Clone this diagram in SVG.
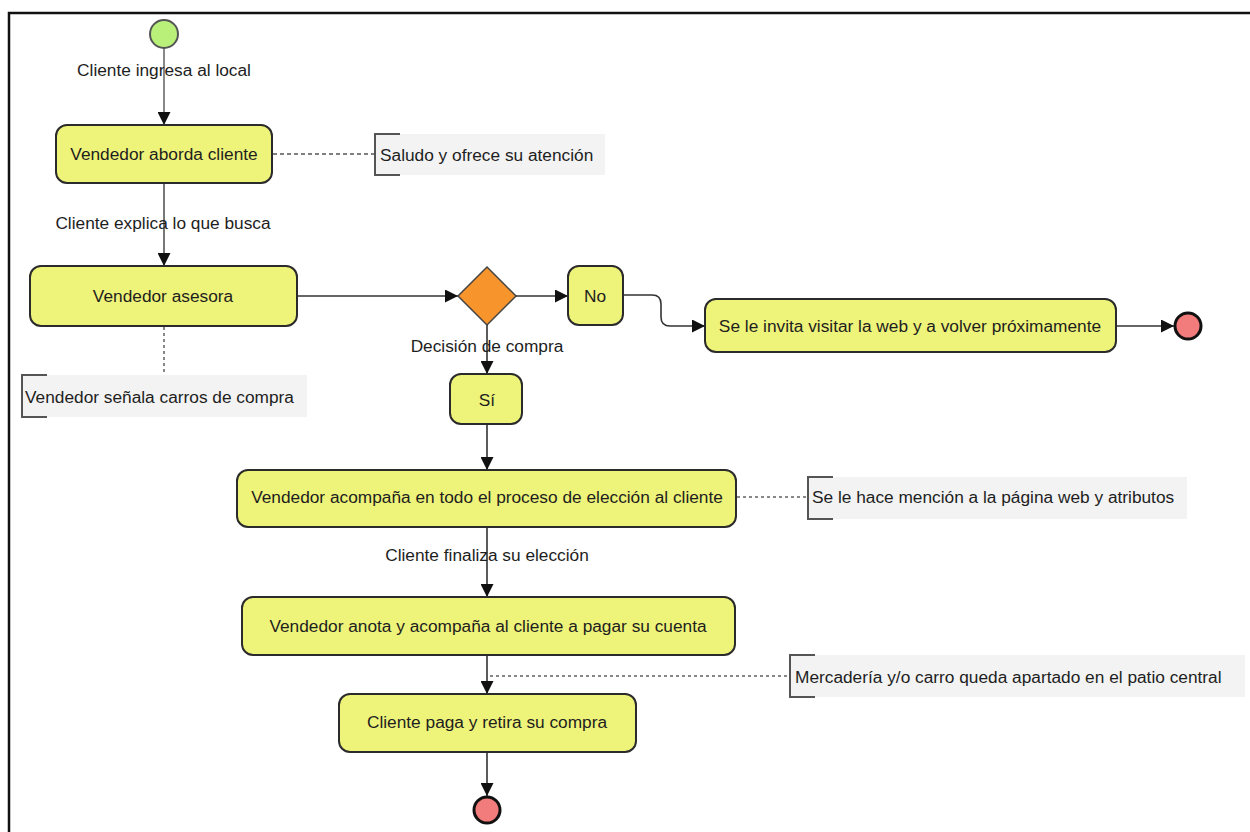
<svg xmlns="http://www.w3.org/2000/svg" width="1250" height="832" viewBox="0 0 1250 832">
<defs>
<marker id="arr" markerWidth="13" markerHeight="13" viewBox="0 0 13 13" refX="13" refY="6.5" orient="auto" markerUnits="userSpaceOnUse">
<path d="M0,0 L13,6.5 L0,13 Z" fill="#111"/>
</marker>
<style>
.node{fill:#eef37a;stroke:#2b2b2b;stroke-width:2}
.t{font-family:"Liberation Sans",Arial,sans-serif;font-size:17.3px;fill:#1e1e1e}
.c{text-anchor:middle}
.edge{fill:none;stroke:#333;stroke-width:1.6}
.dash{fill:none;stroke:#555;stroke-width:1.4;stroke-dasharray:4 3}
.dot{fill:none;stroke:#888;stroke-width:2;stroke-dasharray:3 3}
.nbg{fill:#f3f3f3}
.br{fill:none;stroke:#555;stroke-width:2}
.endc{fill:#f27b7b;stroke:#111;stroke-width:3}
</style>
</defs>
<rect width="1250" height="832" fill="#fff"/>
<path d="M9,832 V13 H1250" fill="none" stroke="#111" stroke-width="2.5"/>

<g id="connectors">
<path class="edge" d="M164,48 V125" marker-end="url(#arr)" style="stroke:#888;stroke-width:2"/>
<path class="edge" d="M164,183 V266" marker-end="url(#arr)" style="stroke:#777;stroke-width:2"/>
<path class="edge" d="M297,296 H458" marker-end="url(#arr)"/>
<path class="edge" d="M516,296 H568" marker-end="url(#arr)"/>
<path class="edge" d="M623,295 H652 Q661,295 661,304 V317 Q661,326 670,326 H705" marker-end="url(#arr)"/>
<path class="edge" d="M1116,326 H1174" marker-end="url(#arr)"/>
<path class="edge" d="M487,325 V374" marker-end="url(#arr)"/>
<path class="edge" d="M487,424 V470" marker-end="url(#arr)"/>
<path class="edge" d="M487,527 V597" marker-end="url(#arr)"/>
<path class="edge" d="M487,655 V694" marker-end="url(#arr)"/>
<path class="edge" d="M487,752 V796" marker-end="url(#arr)"/>
<path class="dash" d="M273,154 H375"/>
<path class="dot" d="M164,327 V375"/>
<path class="dot" d="M737,497 H808"/>
<path class="dot" d="M490,676 H790"/>
<text class="t c" x="164" y="76">Cliente ingresa al local</text>
<text class="t c" x="163" y="229">Cliente explica lo que busca</text>
<text class="t c" x="487" y="352">Decisión de compra</text>
<text class="t c" x="487" y="561">Cliente finaliza su elección</text>
</g>

<g id="start"><circle cx="164" cy="34" r="14" fill="#b8f07a" stroke="#555" stroke-width="2"/></g>

<g id="n1"><rect class="node" x="56" y="125" width="216" height="58" rx="11"/><text class="t c" x="164" y="160">Vendedor aborda cliente</text></g>

<g id="note1"><rect class="nbg" x="375" y="134" width="230" height="41"/><path class="br" d="M400,134 H375 V175 H400"/><text class="t" x="380" y="161">Saludo y ofrece su atención</text></g>

<g id="n2"><rect class="node" x="30" y="266" width="267" height="60" rx="11"/><text class="t c" x="163" y="302">Vendedor asesora</text></g>

<g id="note2"><rect class="nbg" x="22" y="375" width="285" height="42"/><path class="br" d="M47,375 H22 V417 H47"/><text class="t" x="25" y="403">Vendedor señala carros de compra</text></g>

<g id="decision"><path d="M487,267 L516,296 L487,325 L458,296 Z" fill="#f7952c" stroke="#444" stroke-width="1.5"/></g>

<g id="no"><rect class="node" x="568" y="266" width="55" height="59" rx="11"/><text class="t c" x="595" y="302">No</text></g>

<g id="n3"><rect class="node" x="705" y="299" width="411" height="53" rx="11"/><text class="t c" x="910" y="332">Se le invita visitar la web y a volver próximamente</text></g>

<g id="end1"><circle class="endc" cx="1188" cy="326" r="13"/></g>

<g id="si"><rect class="node" x="450" y="374" width="72" height="50" rx="11"/><text class="t c" x="487" y="406">Sí</text></g>

<g id="n4"><rect class="node" x="237" y="470" width="499" height="57" rx="11"/><text class="t c" x="487" y="503">Vendedor acompaña en todo el proceso de elección al cliente</text></g>

<g id="note3"><rect class="nbg" x="808" y="477" width="379" height="42"/><path class="br" d="M833,477 H808 V519 H833"/><text class="t" x="812" y="503">Se le hace mención a la página web y atributos</text></g>

<g id="n5"><rect class="node" x="242" y="597" width="493" height="58" rx="11"/><text class="t c" x="488" y="632">Vendedor anota y acompaña al cliente a pagar su cuenta</text></g>

<g id="note4"><rect class="nbg" x="790" y="655" width="455" height="42"/><path class="br" d="M815,655 H790 V697 H815"/><text class="t" x="795" y="683">Mercadería y/o carro queda apartado en el patio central</text></g>

<g id="n6"><rect class="node" x="339" y="694" width="297" height="58" rx="11"/><text class="t c" x="487" y="728">Cliente paga y retira su compra</text></g>

<g id="end2"><circle class="endc" cx="487" cy="810" r="13"/></g>
</svg>
